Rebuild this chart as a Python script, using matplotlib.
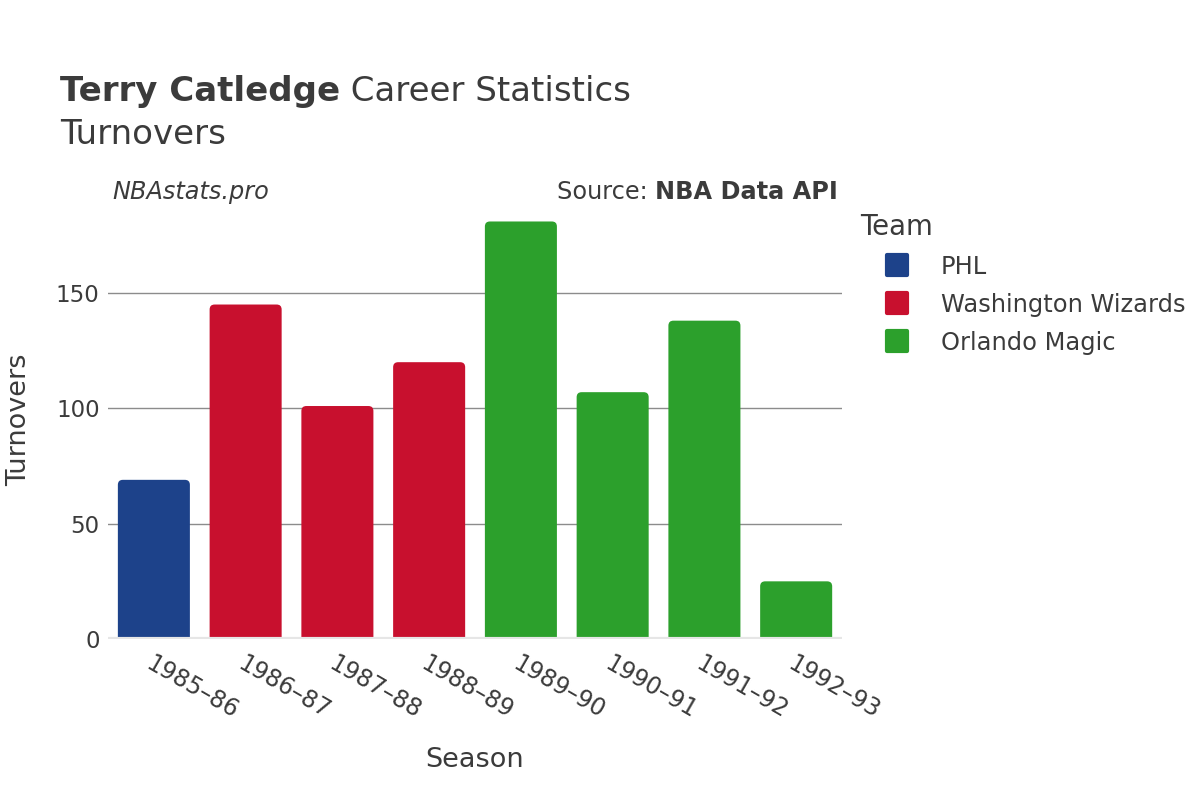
import matplotlib.pyplot as plt
from matplotlib.patches import FancyBboxPatch
from matplotlib.lines import Line2D
from matplotlib.markers import MarkerStyle

# ================================
# DATA
# ================================
seasons = ["1985–86", "1986–87", "1987–88", "1988–89",
           "1989–90", "1990–91", "1991–92", "1992–93"]
turnovers = [69, 145, 101, 120, 181, 107, 138, 25]
teams = ["PHL", "Washington Wizards", "Washington Wizards", "Washington Wizards",
         "Orlando Magic", "Orlando Magic", "Orlando Magic", "Orlando Magic"]
team_names = ["PHL", "Washington Wizards", "Orlando Magic"]
team_colors = {"PHL": "#1D428A", "Washington Wizards": "#C8102E",
               "Orlando Magic": "#2CA02C"}
y_ticks = [0, 50, 100, 150]

TEXT = "#3b3b3b"
plt.rcParams['font.family'] = ['DejaVu Sans']

fig = plt.figure(figsize=(12, 8), dpi=100)
ax = fig.add_axes([0.09, 0.20125, 0.6117, 0.548])

# bars (drawn invisibly, then replaced by rounded-top patches)
x = list(range(len(seasons)))
bars = ax.bar(x, turnovers, width=0.785,
              color=[team_colors[t] for t in teams], zorder=2)

ax.set_xlim(-0.5, len(seasons) - 0.5)
ax.set_ylim(0, max(turnovers) * 1.05)

# rounding: ~5 px, expressed in x data units, aspect converts to y units
fig.canvas.draw()
px_x = 1.0 / (ax.transData.transform((1, 0))[0] - ax.transData.transform((0, 0))[0])
px_y = 1.0 / (ax.transData.transform((0, 1))[1] - ax.transData.transform((0, 0))[1])
r = 5 * px_x
aspect = px_y / px_x
for b in bars:
    bx, bw, bh = b.get_x(), b.get_width(), b.get_height()
    fc = b.get_facecolor()
    b.set_visible(False)
    extra = r * aspect
    p = FancyBboxPatch((bx, -extra), bw, bh + extra,
                       boxstyle=f"round,pad=0,rounding_size={r}",
                       mutation_aspect=aspect, facecolor=fc,
                       edgecolor='none', zorder=2, clip_on=True)
    ax.add_patch(p)

# grid
ax.set_yticks(y_ticks)
ax.yaxis.grid(True, color="#8c8c8c", linewidth=1, zorder=0)
ax.axhline(0, color="#e6e6e6", linewidth=3, zorder=3)
for s in ax.spines.values():
    s.set_visible(False)
ax.tick_params(axis='y', length=0, labelsize=16.5, colors=TEXT, pad=6)
ax.tick_params(axis='x', length=0, labelsize=17, colors=TEXT, pad=9)

ax.set_xticks(x)
ax.set_xticklabels(seasons, rotation=-30, ha='left', va='top',
                   rotation_mode='anchor')

ax.set_xlabel("Season", fontsize=19.5, color=TEXT, labelpad=17)
fig.text(0.016, 0.475, "Turnovers", fontsize=19.5, color=TEXT,
         rotation=90, ha='center', va='center')

# ================================
# TITLES
# ================================
t1 = fig.text(0.05, 0.874, "Terry Catledge", fontsize=24.5, fontweight='bold',
              color=TEXT, va='baseline')
t2 = fig.text(0.3, 0.874, " Career Statistics", fontsize=24.5,
              color=TEXT, va='baseline')
fig.text(0.05, 0.82, "Turnovers", fontsize=24.5, color=TEXT, va='baseline')

fig.text(0.094, 0.76, "NBAstats.pro", fontsize=17.3, style='italic',
         color=TEXT, va='center')
s1 = fig.text(0.6985, 0.76, "Source: ", fontsize=17.3, color=TEXT,
              va='center', ha='right')
src = fig.text(0.6985, 0.76, "NBA Data API", fontsize=17.3, fontweight='bold',
               color=TEXT, va='center', ha='right')

# place the plain parts next to the bold parts
fig.canvas.draw()
bb = src.get_window_extent()
s1.set_x(bb.x0 / fig.bbox.width)
bb1 = t1.get_window_extent()
t2.set_x(bb1.x1 / fig.bbox.width)

# ================================
# LEGEND
# ================================
handles = [Line2D([0], [0], marker=MarkerStyle('s', joinstyle='round'),
                  linestyle='none', markersize=14, markeredgewidth=3,
                  markerfacecolor=team_colors[t], markeredgecolor=team_colors[t])
           for t in team_names]
leg = fig.legend(handles, team_names, loc='upper left',
                 bbox_to_anchor=(0.7085, 0.746), frameon=False,
                 title="Team", fontsize=17.4, title_fontsize=19.8,
                 labelspacing=0.58, handletextpad=0.25, borderaxespad=0,
                 handlelength=3.1)
leg._legend_box.align = "left"
for t in leg.get_texts():
    t.set_color(TEXT)
leg.get_title().set_color(TEXT)

fig.savefig("out.png", dpi=100, facecolor="white")
